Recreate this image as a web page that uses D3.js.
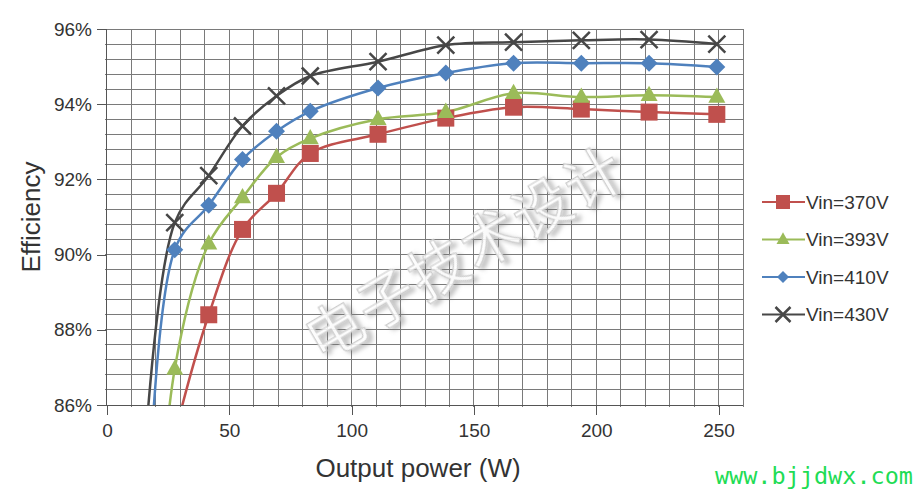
<!DOCTYPE html>
<html>
<head>
<meta charset="utf-8">
<script src="https://cdn.jsdelivr.net/npm/d3@7"></script>
<style>
  html, body { margin: 0; padding: 0; background: #fff; }
  svg { display: block; font-family: "Liberation Sans", Arial, sans-serif; }
</style>
</head>
<body>
<svg id="chart" width="918" height="492"></svg>
<script>
// ---- data ----
const outputPower = [14, 27.7, 41.6, 55.4, 69.3, 83.1, 110.8, 138.5, 166.2, 193.9, 221.6, 249.3];
const vin370 = [81.0, 85.2, 88.40, 90.67, 91.63, 92.69, 93.20, 93.63, 93.92, 93.87, 93.79, 93.73];
const vin393 = [75.5, 86.96, 90.29, 91.52, 92.59, 93.09, 93.60, 93.79, 94.29, 94.19, 94.24, 94.19];
const vin410 = [77.0, 90.13, 91.31, 92.53, 93.28, 93.81, 94.43, 94.83, 95.09, 95.09, 95.09, 94.99];
const vin430 = [83.3, 90.85, 92.10, 93.42, 94.22, 94.75, 95.13, 95.57, 95.65, 95.70, 95.72, 95.60];
const seriesNames = ["Vin=370V", "Vin=393V", "Vin=410V", "Vin=430V"];
const seriesColors = ["#C0504D", "#9BBB59", "#4F81BD", "#474747"];
const seriesMarkers = ["square", "triangle", "diamond", "cross"];
const xTicks = [0, 50, 100, 150, 200, 250];
const yTicks = [86, 88, 90, 92, 94, 96];
const xTitle = "Output power (W)";
const yTitle = "Efficiency";
const watermark = "电子技术设计";
const siteText = "www.bjjdwx.com";

const seriesValues = [vin370, vin393, vin410, vin430];
const series = seriesNames.map((name, i) => ({
  name, color: seriesColors[i], marker: seriesMarkers[i],
  points: outputPower.map((x, j) => ({x, y: seriesValues[i][j]}))
}));

// ---- layout ----
const svg = d3.select("#chart");
const L = 107, R = 743, T = 29, B = 405;
const x = d3.scaleLinear().domain([0, 260]).range([L, R]);
const y = d3.scaleLinear().domain([86, 96]).range([B, T]);

const defs = svg.append("defs");
defs.append("clipPath").attr("id", "plotclip")
  .append("rect").attr("x", L).attr("y", T).attr("width", R - L).attr("height", B - T);
const f = defs.append("filter").attr("id", "wmshadow")
  .attr("x", "-20%").attr("y", "-20%").attr("width", "140%").attr("height", "140%");
f.append("feDropShadow").attr("dx", 3).attr("dy", 4).attr("stdDeviation", 2.2)
  .attr("flood-color", "#777").attr("flood-opacity", 0.5);

// gridlines
const gridColor = "#7a7a7a";
const g = svg.append("g");
g.selectAll("line.vg").data(d3.range(10, 261, 10)).join("line")
  .attr("x1", d => x(d)).attr("x2", d => x(d)).attr("y1", T).attr("y2", B + 2)
  .attr("stroke", gridColor).attr("stroke-width", 1).attr("shape-rendering", "crispEdges");
g.selectAll("line.hg").data(d3.range(0, 25).map(i => 86.4 + i * 0.4)).join("line")
  .attr("x1", L - 2).attr("x2", R).attr("y1", d => y(d)).attr("y2", d => y(d))
  .attr("stroke", gridColor).attr("stroke-width", 1).attr("shape-rendering", "crispEdges");

// axes
const xAxis = svg.append("g").attr("transform", `translate(0,${B})`)
  .call(d3.axisBottom(x).tickValues(xTicks).tickSize(10).tickPadding(9).tickFormat(d3.format("d")));
const yAxis = svg.append("g").attr("transform", `translate(${L},0)`)
  .call(d3.axisLeft(y).tickValues(yTicks).tickSize(10).tickPadding(5).tickFormat(d => d + "%"));
[xAxis, yAxis].forEach(a => {
  a.select(".domain").attr("stroke", "#555").attr("shape-rendering", "crispEdges");
  a.selectAll(".tick line").attr("stroke", "#555").attr("shape-rendering", "crispEdges");
  a.selectAll(".tick text").attr("fill", "#333").attr("font-size", 19)
    .attr("font-family", "'Liberation Sans', Arial, sans-serif");
});
xAxis.select(".domain").attr("d", `M${L},0.5H${R}`);
yAxis.select(".domain").attr("d", `M-0.5,${T}V${B}`);

// watermark
svg.append("text")
  .attr("transform", "translate(463,250) rotate(-30.5)")
  .attr("text-anchor", "middle").attr("dominant-baseline", "central")
  .attr("font-family", "'Noto Sans CJK SC', sans-serif").attr("font-size", 58)
  .attr("letter-spacing", 2)
  .attr("fill", "#ffffff").attr("fill-opacity", 0.85)
  .attr("stroke", "#cccccc").attr("stroke-width", 1.2)
  .attr("filter", "url(#wmshadow)")
  .text(watermark);

// lines
const line = d3.line().x(d => x(d.x)).y(d => y(d.y)).curve(d3.curveCatmullRom.alpha(0.5));
const plot = svg.append("g").attr("clip-path", "url(#plotclip)");
plot.selectAll("path.series").data(series).join("path")
  .attr("d", d => line(d.points)).attr("fill", "none")
  .attr("stroke", d => d.color).attr("stroke-width", 2.5);

function drawMarker(sel, type, color, s) {
  if (type === "square") {
    sel.append("rect").attr("x", -s / 2).attr("y", -s / 2).attr("width", s).attr("height", s)
      .attr("fill", color);
  } else if (type === "triangle") {
    const h = s * 0.9;
    sel.append("path").attr("d", `M0,${-h * 0.62}L${s / 2},${h * 0.38}L${-s / 2},${h * 0.38}Z`)
      .attr("fill", color);
  } else if (type === "diamond") {
    sel.append("path").attr("d", `M0,${-s / 2}L${s / 2},0L0,${s / 2}L${-s / 2},0Z`).attr("fill", color);
  } else {
    const a = s / 2;
    sel.append("path").attr("d", `M${-a},${-a}L${a},${a}M${-a},${a}L${a},${-a}`)
      .attr("stroke", color).attr("stroke-width", 2.5).attr("fill", "none");
  }
}
const markerSize = {square: 17, triangle: 17, diamond: 17, cross: 17};
series.forEach(s => {
  plot.selectAll(null).data(s.points).join("g")
    .attr("transform", d => `translate(${x(d.x)},${y(d.y)})`)
    .each(function () { drawMarker(d3.select(this), s.marker, s.color, markerSize[s.marker]); });
});

// axis titles
svg.append("text").attr("x", 418).attr("y", 477).attr("text-anchor", "middle")
  .attr("font-size", 26).attr("fill", "#333").text(xTitle);
svg.append("text").attr("transform", "translate(40,217) rotate(-90)").attr("text-anchor", "middle")
  .attr("font-size", 26).attr("fill", "#333").text(yTitle);

// legend
const legend = svg.append("g");
series.forEach((s, i) => {
  const ly = 202 + i * 37.5;
  const lg = legend.append("g").attr("transform", `translate(0,${ly})`);
  lg.append("line").attr("x1", 762).attr("x2", 805).attr("y1", 0).attr("y2", 0)
    .attr("stroke", s.color).attr("stroke-width", 2);
  const mg = lg.append("g").attr("transform", "translate(783,0)");
  drawMarker(mg, s.marker, s.color, {square: 14, triangle: 13, diamond: 12, cross: 15}[s.marker]);
  lg.append("text").attr("x", 806).attr("y", 0).attr("dy", "0.36em")
    .attr("font-size", 19).attr("fill", "#333").text(s.name);
});

// site text
svg.append("text").attr("x", 913).attr("y", 484).attr("text-anchor", "end")
  .attr("font-family", "'DejaVu Sans Mono', monospace").attr("font-size", 23.5)
  .attr("fill", "#1fdc55").text(siteText);
</script>
</body>
</html>
